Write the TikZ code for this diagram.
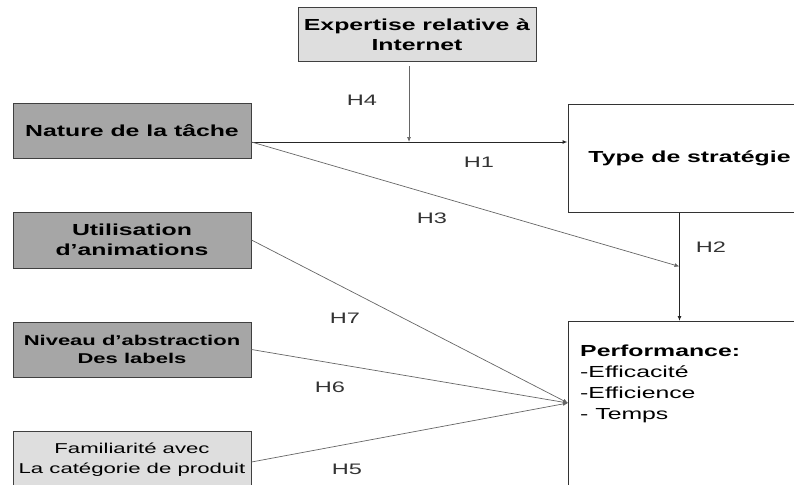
\documentclass[tikz,border=0pt]{standalone}
\usepackage{fontspec}
\setmainfont{Liberation Sans}[FakeStretch=1.55]
\usetikzlibrary{arrows.meta}
\definecolor{darkbox}{HTML}{A6A6A6}
\definecolor{lightbox}{HTML}{DEDEDE}

\begin{document}
\begin{tikzpicture}[
    x=1pt, y=-1pt,
    factor/.style={rectangle, draw=black!75, line width=1pt, fill=darkbox, minimum width=238pt, minimum height=55pt, inner sep=0pt, align=center, font=\fontsize{16}{20}\selectfont\bfseries},
    moderator/.style={factor, fill=lightbox},
    outcome/.style={rectangle, draw=black!80, line width=1pt, fill=white, minimum width=243pt, inner sep=0pt, font=\fontsize{16}{20}\selectfont\bfseries},
    link/.style={draw=black!60, line width=0.7pt, -{Latex[length=5pt,width=4pt]}},
    strong/.style={link, draw=black!85, line width=1pt},
    hyp/.style={font=\fontsize{15.2}{18}\selectfont, text=black!80}
  ]
    \useasboundingbox (0,0) rectangle (794,484);

    % Antecedents
    \node[moderator, minimum height=54pt] (expert) at (417,35) {Expertise relative à\\Internet};
    \node[factor] (nature) at (132,131) {Nature de la tâche};
    \node[factor, minimum height=56pt] (anim) at (132,240) {Utilisation\\d’animations};
    \node[factor, font=\fontsize{14.2}{18}\selectfont\bfseries] (abstr) at (132,349.5) {Niveau d’abstraction\\Des labels};
    \node[moderator, minimum height=58pt, font=\fontsize{14.3}{20}\selectfont] (famil) at (132,460) {Familiarité avec\\La catégorie de produit};

    % Outcomes
    \node[outcome, minimum height=107pt] (strat) at (689.5,158.5) {Type de stratégie};
    \node[outcome, minimum height=200pt, anchor=north west] (perf) at (568,321) {};
    \node[anchor=north west, align=left, inner sep=0pt, font=\fontsize{16}{21}\selectfont] (perftext) at ([xshift=12pt,yshift=-24pt]perf.north west) {\textbf{Performance:}\\-Efficacité\\-Efficience\\- Temps};

    % Connectors
    \coordinate (h1s) at ([yshift=-11pt]nature.east);
    \coordinate (h4s) at ([xshift=-8pt,yshift=-4pt]expert.south);
    \coordinate (h2s) at ([xshift=-10pt]strat.south);
    \coordinate (h3e) at ([yshift=-54pt]h2s);
    \coordinate (conv) at ([yshift=-82pt]perf.north west);
    \draw[strong] (h1s) -- (h1s -| strat.west);
    \draw[link] (h4s) -- (h4s |- h1s);
    \draw[link] (h1s) -- (h3e);
    \draw[strong] (h2s) -- (h2s |- perf.north);
    \draw[link] (anim.east) -- (conv);
    \draw[link] (abstr.east) -- (conv);
    \draw[link] ([yshift=-2pt]famil.east) -- (conv);

    % Hypotheses
    \node[hyp] (lh1) at (479,162) {H1};
    \node[hyp] (lh2) at (711,247) {H2};
    \node[hyp] (lh3) at (432,218) {H3};
    \node[hyp] (lh4) at (362,100) {H4};
    \node[hyp] (lh5) at (347,469) {H5};
    \node[hyp] (lh6) at (330,387) {H6};
    \node[hyp] (lh7) at (345,318) {H7};
  \end{tikzpicture}
\end{document}
